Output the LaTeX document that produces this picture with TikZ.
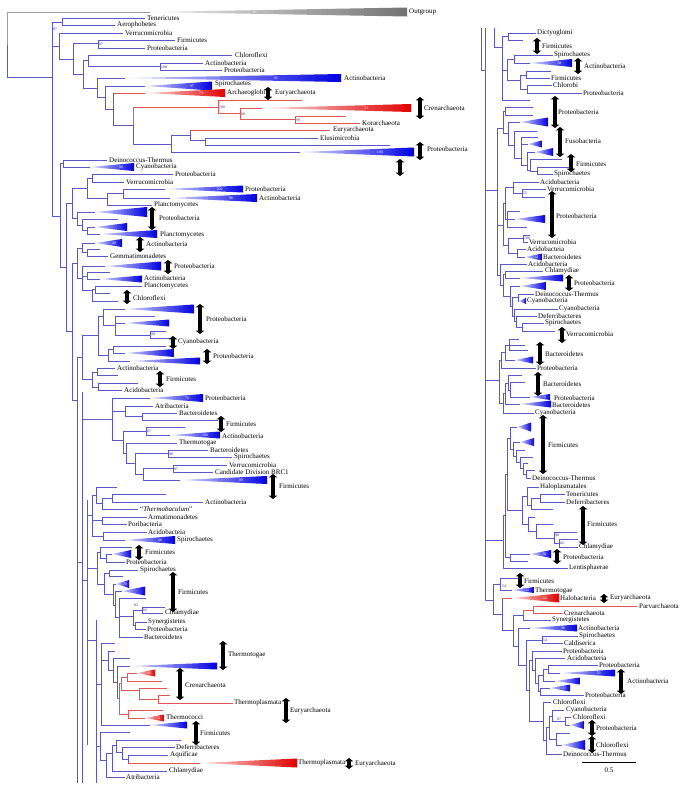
\documentclass[tikz,border=0pt]{standalone}
\usepackage{fontspec}
\setmainfont{Liberation Serif}
\usetikzlibrary{arrows.meta}
\definecolor{bb}{RGB}{88,88,202}
\definecolor{rb}{RGB}{225,85,85}
\definecolor{tb}{RGB}{0,0,225}
\definecolor{tr}{RGB}{225,0,0}
\definecolor{tg}{RGB}{115,115,115}
\definecolor{nb}{RGB}{40,40,130}
\tikzset{
 br/.style={draw=bb, line width=0.6pt},
 rbr/.style={draw=rb, line width=0.6pt},
 lab/.style={anchor=west, inner sep=0pt, font=\fontsize{7}{8}\selectfont, text=black},
 num/.style={anchor=west, inner sep=0pt, font=\fontsize{3.8}{4}\selectfont, text=nb},
 tnum/.style={inner sep=0pt, font=\fontsize{3.8}{4}\selectfont, text=white},
 dbl/.style={line width=3.4pt, draw=black, {Triangle[width=8.5pt,length=3.4pt]}-{Triangle[width=8.5pt,length=3.4pt]}},
}
\newcommand\phH[3]{\draw[br] (#1,#3) -- (#2,#3);}
\newcommand\phV[3]{\draw[br] (#1,#2) -- (#1,#3);}
\newcommand\rH[3]{\draw[rbr] (#1,#3) -- (#2,#3);}
\newcommand\rV[3]{\draw[rbr] (#1,#2) -- (#1,#3);}
\newcommand\phN[3]{\node[lab] at (#1,#2) {#3};}
\newcommand\phM[3]{\node[num] at (#1,#2) {#3};}
\newcommand\phA[3]{\draw[dbl] (#1,#2) -- (#1,#3);}
\newcommand\phTT[8]{%
  \draw[line width=0.6pt,draw=#6] (#1,#4) -- (#2,#4);
  \shade[left color=#7!12,right color=#7] (#2,#4) -- (#3,{#4-#5}) -- (#3,{#4+#5}) -- cycle;
  \pgfmathsetmacro\phX{#3-0.3*(#3-#2)}%
  \node[tnum] at (\phX,#4) {#8};}
\newcommand\phTb[6]{\phTT{#1}{#2}{#3}{#4}{#5}{bb}{tb}{#6}}
\newcommand\phTr[6]{\phTT{#1}{#2}{#3}{#4}{#5}{rb}{tr}{#6}}
\begin{document}
\begin{tikzpicture}[x=1pt,y=-1pt]
\fill[white] (0,0) rectangle (685,790);
\useasboundingbox (0,0) rectangle (685,790);
% ===== LEFT PANEL: top =====
\draw[line width=0.6pt,draw=tg!70] (7,12) -- (150,12);
\draw[line width=0.6pt,draw=tg!70] (7,12) -- (7,45);
\shade[left color=tg!12,right color=tg] (150,12) -- (407,7.5) -- (407,16.5) -- cycle;
\node[tnum] at (255,12) {97};
\phN{409}{12}{Outgroup}
\phV{7}{45}{77} \phH{7}{52}{77}
\phV{52}{22}{216}
\phH{52}{62}{22} \phV{62}{18}{25}
\phH{62}{145}{18} \phN{147}{18}{Tenericutes}
\phH{62}{115}{25} \phN{117}{25}{Aerophobetes}
\phM{53}{29}{97}
\phH{52}{59}{46} \phV{59}{33}{59}
\phH{59}{123}{33} \phN{125}{33}{Verrucomicrobia}
\phH{59}{73}{59} \phV{73}{43}{74}
\phH{73}{98}{43} \phV{98}{40}{48}
\phH{98}{175}{40} \phN{177}{40}{Firmicutes}
\phH{98}{145}{48} \phN{147}{48}{Proteobacteria}
\phM{99}{44.5}{87}
\phH{73}{83}{74} \phV{83}{60}{88}
\phH{83}{88}{60} \phV{88}{55}{66}
\phH{88}{232}{55} \phN{235}{55}{Chloroflexi}
\phH{88}{160}{66} \phV{160}{63}{70}
\phH{160}{203}{63} \phN{205}{63}{Actinobacteria}
\phH{160}{222}{70} \phN{224}{70}{Proteobacteria}
\phM{161}{67}{100}
\phH{83}{97}{88} \phV{97}{78}{97}
\phTb{97}{125}{341}{78}{4}{91} \phN{344}{78}{Actinobacteria}
\phH{97}{105}{97} \phV{105}{86}{109}
\phTb{105}{145}{212}{86}{4.5}{97} \phN{215}{84}{Spirochaetes}
\phH{105}{113}{109} \phV{113}{93}{125}
\phTr{113}{145}{225}{93}{4}{79} \phN{227}{93}{Archaeoglobi}
\phA{268}{87}{100} \phN{275}{93}{Euryarchaeota}
\phH{113}{133}{125} \rV{133}{107}{125} \phV{133}{125}{144}
\rH{133}{218}{107} \rV{218}{100}{113}
\rH{218}{302}{100}
\phM{219}{107}{100}
\rH{218}{240}{113} \rV{240}{108}{119}
\phTr{240}{262}{411}{108}{4}{51}
\phM{241}{114}{80}
\rH{240}{295}{119} \rV{295}{116}{123}
\rH{295}{346}{116} \rH{295}{360}{123} \phN{362}{123}{Korarchaeota}
\phM{296}{120}{99}
\phA{420}{97}{119} \phN{424}{108}{Crenarchaeota}
\phH{133}{171}{144} \phV{171}{135}{152}
\phH{171}{190}{135} \phV{190}{130}{140}
\rH{190}{330}{130} \phN{333}{130}{Euryarchaeota}
\phH{190}{205}{140} \phV{205}{138}{145}
\phH{205}{318}{138} \phN{320}{138}{Elusimicrobia}
\phH{205}{390}{145}
\phTb{171}{300}{414}{152}{4.5}{100}
\phA{420}{142}{160} \phN{427}{149}{Proteobacteria}
\phA{400}{159}{176}
% ===== G1 =====
\phH{52}{60}{216} \phV{60}{163}{267}
\phH{60}{63}{163} \phV{63}{160}{167}
\phH{63}{107}{160} \phN{109}{160}{Deinococcus-Thermus}
\phTb{63}{90}{134}{167}{4}{94} \phN{136}{167}{Cyanobacteria}
\phH{60}{66}{267} \phV{66}{203}{331}
\phH{66}{72}{203} \phV{72}{188}{218}
% ===== G2 =====
\phH{72}{87}{188} \phV{87}{178}{198}
\phH{87}{92}{178} \phV{92}{174}{182}
\phH{92}{173}{174} \phN{175}{174}{Proteobacteria}
\phH{92}{124}{182} \phN{126}{182}{Verrucomicrobia}
\phH{87}{107}{198} \phV{107}{193}{205}
\phH{107}{123}{193} \phV{123}{189}{198}
\phTb{123}{165}{243}{189}{3.5}{100} \phN{245}{189}{Proteobacteria}
\phTb{123}{170}{257}{198}{4}{98} \phN{259}{198}{Actinobacteria}
\phH{107}{152}{205} \phN{154}{205}{Planctomycetes}
% ===== G3 =====
\phH{72}{77}{218} \phV{77}{212}{225}
\phTb{77}{95}{147}{212}{5}{}
\phH{77}{82}{225} \phV{82}{219}{230}
\phH{82}{118}{219}
\phH{82}{87}{230} \phV{87}{227}{234}
\phTb{87}{95}{127}{227}{4}{}
\phTb{87}{100}{157}{234}{4}{} \phN{160}{235}{Planctomycetes}
\phA{152}{207}{230} \phN{159}{218}{Proteobacteria}
% ===== G4, G5 =====
\phH{66}{72}{331} \phV{72}{263}{400}
\phH{72}{77}{263} \phV{77}{248}{278}
\phH{77}{82}{248} \phV{82}{243}{252}
\phTb{82}{95}{122}{243}{4}{40}
\phH{82}{87}{252} \phV{87}{249}{256}
\phH{87}{100}{249}
\phH{87}{108}{256} \phN{110}{256}{Gemmatimonadetes}
\phA{140}{237}{252} \phN{146}{244}{Actinobacteria}
\phH{77}{82}{278} \phV{82}{266}{290}
\phTb{82}{105}{161}{266}{4.5}{}
\phA{168}{260}{274} \phN{174}{266}{Proteobacteria}
\phH{82}{87}{276} \phV{87}{272}{279}
\phH{87}{110}{272}
\phTb{87}{100}{142}{279}{3.5}{} \phN{144}{278}{Actinobacteria}
\phH{82}{92}{290} \phV{92}{289}{301}
\phH{92}{95}{289} \phV{95}{286}{293}
\phH{95}{142}{286} \phN{144}{286}{Planctomycetes}
\phH{95}{110}{293}
\phH{92}{118}{301}
\phA{127}{290}{304} \phN{133}{298}{Chloroflexi}
% ===== G6 =====
\phH{72}{77}{400} \phV{77}{357}{783}
\phH{77}{82}{357} \phV{82}{335}{379}
\phH{82}{98}{335} \phV{98}{316}{355}
\phH{98}{103}{316} \phV{103}{309}{325}
\phTb{103}{125}{194}{309}{4.5}{}
\phH{103}{115}{325} \phV{115}{316}{335}
\phH{115}{155}{316}
\phTb{115}{125}{169}{323}{3.5}{}
\phH{115}{150}{335} \phV{150}{331}{338}
\phH{150}{166}{331} \phH{150}{170}{338}
\phM{151}{334.5}{99}
\phH{98}{108}{355} \phV{108}{349}{361}
\phH{108}{113}{349} \phV{113}{346}{353}
\phH{113}{166}{346}
\phTb{113}{125}{174}{353}{4}{}
\phTb{108}{130}{200}{361}{3.5}{}
\phA{200}{304}{334} \phN{206}{319}{Proteobacteria}
\phA{173}{336}{349} \phN{178}{342}{Cyanobacteria}
\phA{207}{349}{364} \phN{213}{356}{Proteobacteria}
% ===== G7 =====
\phH{82}{92}{379} \phV{92}{372}{387}
\phH{92}{97}{372} \phV{97}{368}{375}
\phH{97}{115}{368} \phN{117}{368}{Actinobacteria}
\phH{97}{118}{375}
\phH{92}{98}{387} \phV{98}{383}{390}
\phH{98}{138}{383}
\phH{98}{122}{390} \phN{124}{390}{Acidobacteria}
\phA{160}{371}{387} \phN{166}{379}{Firmicutes}
% ===== G8 =====
\phH{77}{82}{562} \phV{82}{392}{783}
\phH{82}{112}{419} \phV{112}{398}{440}
\phTb{112}{150}{203}{398}{4}{70} \phN{205}{398}{Proteobacteria}
\phH{112}{125}{411} \phV{125}{406}{416}
\phH{125}{153}{406} \phN{155}{406}{Atribacteria}
\phH{125}{142}{416} \phV{142}{413}{420}
\phH{142}{177}{413} \phN{179}{413}{Bacteroidetes}
\phH{142}{218}{420}
\phA{221}{416}{432} \phN{226}{424}{Firmicutes}
\phH{112}{123}{440} \phV{123}{431}{453}
\phH{123}{146}{431} \phV{146}{427}{435}
\phH{146}{185}{427}
\phTb{146}{170}{220}{435}{3.5}{100} \phN{222}{436}{Actinobacteria}
\phM{147}{431}{87}
\phH{123}{126}{453} \phV{126}{443}{463}
\phH{126}{177}{443} \phN{179}{443}{Thermotogae}
\phH{126}{135}{463} \phV{135}{453}{474}
\phH{135}{168}{453} \phV{168}{450}{457}
\phH{168}{208}{450} \phN{210}{450}{Bacteroidetes}
\phH{168}{232}{457} \phN{234}{457}{Spirochaetes}
\phM{169}{454}{98}
\phH{135}{143}{474} \phV{143}{468}{480}
\phH{143}{173}{468} \phV{173}{465}{472}
\phH{173}{227}{465} \phN{229}{465}{Verrucomicrobia}
\phH{173}{213}{472} \phN{215}{472}{Candidate Division BRC1}
\phM{174}{469}{97}
\phTb{143}{180}{267}{480}{4}{89}
\phA{273}{474}{499} \phN{279}{486}{Firmicutes}
% ===== G9 =====
\phH{82}{87}{580} \phV{87}{500}{745}
\phH{87}{92}{515} \phV{92}{495}{536}
\phH{92}{96}{495} \phV{96}{487}{503}
\phH{96}{117}{487}
\phH{96}{102}{503} \phV{102}{498}{509}
\phH{102}{112}{498} \phV{112}{494}{502}
\phH{112}{166}{494}
\phH{112}{203}{502} \phN{205}{502}{Actinobacteria}
\phH{102}{138}{509} \phN{140}{509}{“\textit{Thermobaculum}”}
\phH{92}{102}{520} \phV{102}{517}{524}
\phH{102}{147}{517} \phN{148}{517}{Armatimonadetes}
\phH{102}{127}{524} \phN{128}{524}{Poribacteria}
\phH{92}{103}{536} \phV{103}{532}{540}
\phH{103}{147}{532} \phN{148}{532}{Acidobacteia}
\phTb{103}{125}{175}{540}{4}{46} \phN{177}{540}{Spirochaetes}
% ===== G10 =====
\phH{87}{97}{568} \phV{97}{552}{584}
\phH{97}{100}{552} \phV{100}{547}{558}
\phH{100}{132}{547}
\phH{100}{106}{558} \phV{106}{554}{562}
\phTb{106}{112}{131}{554}{4}{}
\phH{106}{125}{562} \phN{126}{562}{Proteobacteria}
\phA{139}{545}{560} \phN{145}{552}{Firmicutes}
\phH{97}{104}{584} \phV{104}{573}{594}
\phH{104}{109}{573} \phV{109}{570}{576}
\phH{109}{138}{570} \phN{140}{570}{Spirochaetes}
\phH{109}{123}{576}
\phH{104}{113}{594} \phV{113}{584}{605}
\phTb{113}{116}{129}{584}{4}{70}
\phH{113}{115}{605} \phV{115}{591}{617}
\phTb{115}{122}{145}{591}{4.5}{}
\phH{115}{119}{617} \phV{119}{598}{637}
\phH{119}{146}{598}
\phH{119}{133}{616} \phV{133}{610}{625}
\phH{133}{142}{610} \phV{142}{607}{613}
\phH{142}{165}{607}
\phH{142}{163}{613} \phN{165}{613}{Chlamydiae}
\phM{143}{610}{83}
\phM{134}{605}{82}
\phH{133}{135}{625} \phV{135}{622}{629}
\phH{135}{147}{622} \phN{148}{622}{Synergistetes}
\phH{135}{146}{629} \phN{147}{629}{Proteobacteria}
\phH{119}{143}{637} \phN{144}{637}{Bacteroidetes}
\phA{173}{572}{612} \phN{178}{592}{Firmicutes}
% ===== G11 =====
\phH{87}{96}{640} \phV{96}{620}{783}
\phH{96}{101}{684} \phV{101}{643}{725}
\phH{101}{115}{643}
\phH{101}{108}{660} \phV{108}{651}{670}
\phH{108}{115}{651}
\phH{108}{113}{670} \phV{113}{658}{682}
\phH{113}{130}{658}
\phH{113}{117}{682} \phV{117}{666}{698}
\phTb{117}{130}{217}{666}{3.5}{}
\rH{117}{119}{698}
\rV{119}{683}{714}
\rH{119}{121}{683} \rV{121}{677}{690}
\rH{121}{127}{677} \rV{127}{673}{681}
\phTr{127}{137}{155}{673}{3.5}{86}
\rH{127}{162}{681}
\rH{121}{139}{690} \rV{139}{688}{699}
\rH{139}{167}{688}
\rH{139}{158}{699} \rV{158}{695}{703}
\rH{158}{170}{695}
\rH{158}{233}{703} \phN{234}{703}{Thermoplasmata}
\rH{119}{128}{714} \rV{128}{710}{718}
\rH{128}{163}{710}
\phTr{128}{145}{164}{718}{3.5}{74} \phN{166}{717}{Thermococci}
\phTb{101}{150}{187}{725}{3.5}{}
\phA{223}{641}{670} \phN{228}{655}{Thermotogae}
\phA{180}{668}{700} \phN{185}{685}{Crenarchaeota}
\phA{286}{698}{723} \phN{290}{711}{Euryarchaeota}
\phA{196}{721}{745} \phN{200}{733}{Firmicutes}
% ===== G12 =====
\phH{96}{100}{746} \phV{100}{732}{760}
\phH{100}{130}{732}
\phH{100}{106}{760} \phV{106}{753}{777}
\phH{106}{112}{753} \phV{112}{745}{771}
\phH{112}{116}{745} \phV{116}{740}{752}
\phH{116}{181}{740}
\phH{116}{122}{752} \phV{122}{747}{759}
\phH{122}{175}{747} \phN{176}{747}{Deferribacteres}
\phH{122}{128}{759} \phV{128}{755}{763}
\phH{128}{168}{755} \phN{170}{755}{Aquificae}
\phTr{128}{200}{297}{763}{4.5}{} \phN{298}{763}{Thermoplasmata}
\phA{349}{758}{769} \phN{355}{764}{Euryarchaeota}
\phH{112}{167}{771} \phN{169}{771}{Chlamydiae}
\phH{106}{125}{777} \phN{126}{777}{Atribacteria}
% ===== RIGHT PANEL =====
\phV{481}{28}{70} \phH{481}{485}{70}
\phV{485}{28}{600}
\phV{494}{28}{47} \phH{494}{502}{47}
% R1
\phV{502}{36}{100}
\phH{502}{508}{36} \phV{508}{33}{40}
\phH{508}{536}{33} \phN{537}{33}{Dictyoglomi}
\phH{508}{523}{40}
\phA{537}{38}{54} \phN{542}{46}{Firmicutes}
\phH{502}{507}{70} \phV{507}{59}{80}
\phH{507}{514}{59} \phV{514}{55}{63}
\phH{514}{553}{55} \phN{554}{55}{Spirochaetes}
\phTb{514}{530}{572}{63}{4}{50}
\phA{578}{58}{74} \phN{584}{66}{Actinobacteria}
\phH{507}{520}{80} \phV{520}{75}{89}
\phH{520}{526}{75} \phV{526}{71}{78}
\phH{526}{551}{71}
\phH{526}{550}{78} \phN{551}{78}{Firmicutes}
\phH{520}{527}{89} \phV{527}{85}{93}
\phH{527}{552}{85} \phN{553}{85}{Chlorobi}
\phH{527}{582}{93} \phN{583}{93}{Proteobacteria}
\phH{502}{530}{100}
% R2
\phH{485}{497}{190} \phV{497}{128}{275}
\phH{497}{503}{128} \phV{503}{111}{133}
\phH{503}{505}{111} \phV{505}{107}{115}
\phH{505}{533}{107} \phH{505}{533}{115}
\phH{503}{508}{133} \phV{508}{122}{145}
\phTb{508}{520}{548}{122}{4.5}{}
\phA{555}{96}{128} \phN{558}{112}{Proteobacteria}
\phH{508}{514}{145} \phV{514}{131}{158}
\phH{514}{537}{131}
\phH{514}{521}{158} \phV{521}{137}{165}
\phH{521}{538}{137}
\phTb{521}{528}{542}{144}{3.5}{}
\phH{521}{527}{165} \phV{527}{152}{170}
\phTb{527}{535}{553}{152}{4}{}
\phH{527}{530}{170} \phV{530}{159}{171}
\phH{530}{562}{159}
\phH{530}{537}{171} \phV{537}{167}{174}
\phH{537}{573}{167}
\phH{537}{553}{174} \phN{554}{174}{Spirochaetes}
\phA{560}{127}{157} \phN{565}{141}{Fusobacteria}
\phA{571}{154}{172} \phN{576}{164}{Firmicutes}
% R3
\phH{497}{503}{225} \phV{503}{203}{245}
\phH{503}{505}{203} \phV{505}{187}{219}
\phH{505}{513}{187} \phV{513}{182}{193}
\phH{513}{539}{182} \phN{540}{182}{Acidobacteria}
\phH{513}{522}{193} \phV{522}{189}{197}
\phH{522}{546}{189} \phN{547}{189}{Verrucomicrobia}
\phH{522}{545}{197}
\phM{523}{193}{55}
\phH{505}{507}{219} \phV{507}{211}{227}
\phH{507}{520}{211}
\phTb{507}{515}{545}{219}{4}{}
\phH{507}{527}{227}
\phH{503}{508}{245} \phV{508}{238}{253}
\phH{508}{523}{238} \phV{523}{235}{242}
\phH{523}{530}{235}
\phH{523}{528}{242} \phN{529}{242}{Verrucomicrobia}
\phM{524}{238.5}{100}
\phH{508}{517}{253} \phV{517}{249}{257}
\phH{517}{526}{249} \phN{527}{249}{Acidobacteia}
\phTb{517}{525}{542}{257}{3.5}{61} \phN{543}{257}{Bacteroidetes}
\phA{552}{191}{238} \phN{556}{216}{Proteobacteria}
% R4
\phH{497}{500}{275} \phV{500}{264}{285}
\phH{500}{527}{264} \phN{528}{264}{Acidobacteria}
\phH{500}{503}{285} \phV{503}{274}{296}
\phH{503}{505}{274} \phV{505}{271}{278}
\phH{505}{543}{271} \phN{545}{271}{Chlamydiae}
\phTb{505}{520}{563}{278}{3.5}{}
\phA{569}{275}{291} \phN{574}{283}{Proteobacteria}
\phH{503}{510}{296} \phV{510}{286}{306}
\phTb{510}{520}{546}{286}{4}{}
\phH{510}{512}{306} \phV{512}{297}{316}
\phH{512}{518}{297} \phV{518}{294}{301}
\phH{518}{534}{294} \phN{535}{294}{Deinococcus-Thermus}
\phTb{518}{519}{526}{301}{3}{} \phN{527}{301}{Cyanobacteria}
\phH{512}{514}{316} \phV{514}{309}{321}
\phH{514}{558}{309} \phN{559}{309}{Cyanobacteria}
\phH{514}{516}{321} \phV{516}{316}{327}
\phH{516}{537}{316} \phN{538}{316}{Deferribacteres}
\phH{516}{522}{327} \phV{522}{323}{331}
\phH{522}{544}{323} \phN{545}{323}{Spirochaetes}
\phH{522}{555}{331}
\phA{562}{327}{343} \phN{566}{334}{Verrucomicrobia}
% R5
\phH{485}{499}{380} \phV{499}{360}{403}
\phH{499}{501}{360} \phV{501}{352}{368}
\phH{501}{505}{352} \phV{505}{345}{360}
\phH{505}{509}{345} \phV{509}{339}{350}
\phH{509}{519}{339} \phH{509}{525}{345} \phH{509}{528}{350}
\phTb{505}{515}{533}{360}{3.5}{}
\phH{501}{536}{368} \phN{537}{368}{Proteobacteria}
\phH{499}{503}{403} \phV{503}{393}{413}
\phH{503}{505}{393} \phV{505}{383}{404}
\phH{505}{508}{383} \phV{508}{375}{390}
\phH{508}{522}{375}
\phH{508}{510}{390} \phV{510}{382}{397}
\phH{510}{525}{382}
\phTb{510}{530}{550}{397}{3}{76} \phN{554}{398}{Proteobacteria}
\phTb{505}{520}{551}{404}{3.5}{} \phN{552}{405}{Bacteroidetes}
\phH{503}{534}{413} \phN{535}{413}{Cyanobacteria}
\phA{540}{342}{365} \phN{545}{354}{Bacteroidetes}
\phA{538}{372}{396} \phN{543}{384}{Bacteroidetes}
% R6
\phH{485}{503}{540} \phV{503}{515}{568}
\phH{503}{505}{515} \phV{505}{474}{557}
\phH{505}{507}{474} \phV{507}{438}{510}
\phH{507}{510}{438} \phV{510}{427}{449}
\phTb{510}{517}{531}{427}{4.5}{}
\phH{510}{513}{449} \phV{513}{442}{456}
\phTb{513}{520}{534}{442}{4}{}
\phH{513}{516}{456} \phV{516}{450}{462}
\phH{516}{525}{450}
\phH{516}{520}{462} \phV{520}{457}{468}
\phH{520}{533}{457}
\phH{520}{523}{468} \phV{523}{463}{474}
\phH{523}{528}{463}
\phH{523}{526}{474} \phV{526}{470}{478}
\phH{526}{535}{470}
\phH{526}{531}{478} \phN{532}{478}{Deinococcus-Thermus}
\phA{543}{415}{474} \phN{548}{445}{Firmicutes}
\phH{507}{522}{510} \phV{522}{496}{524}
\phH{522}{527}{496} \phV{527}{487}{505}
\phH{527}{539}{487} \phN{540}{487}{Haloplasmatales}
\phH{527}{531}{505} \phV{531}{498}{509}
\phH{531}{540}{498} \phV{540}{494}{502}
\phH{540}{565}{494} \phN{566}{494}{Tenericutes}
\phH{540}{565}{502} \phN{566}{502}{Deferribacteres}
\phH{531}{553}{509}
\phH{522}{528}{524} \phV{528}{517}{531}
\phH{528}{535}{517}
\phH{528}{536}{531} \phV{536}{524}{538}
\phH{536}{553}{524}
\phH{536}{554}{538} \phV{554}{532}{543}
\phH{554}{577}{532}
\phM{555}{535}{98}
\phH{554}{559}{543} \phV{559}{539}{547}
\phH{559}{578}{539}
\phH{559}{578}{547} \phN{579}{547}{Chlamydiae}
\phM{560}{543}{82}
\phA{583}{506}{545} \phN{587}{524}{Firmicutes}
\phH{505}{510}{557} \phV{510}{554}{561}
\phTb{510}{530}{551}{554}{4}{92}
\phH{510}{528}{561}
\phA{557}{549}{564} \phN{563}{557}{Proteobacteria}
\phH{503}{568}{568} \phN{569}{568}{Lentisphaerae}
% R7
\phH{485}{493}{600} \phV{493}{584}{614}
\phH{493}{500}{584} \phV{500}{578}{590}
\phH{500}{520}{578}
\phA{520}{573}{588} \phN{524}{581}{Firmicutes}
\phTb{500}{512}{534}{590}{3}{55} \phN{535}{591}{Thermotogae}
\phM{502}{586}{54}
\phH{493}{502}{614} \phV{502}{598}{630}
\phTr{502}{512}{559}{598}{4.5}{64} \phN{560}{598}{Halobacteria}
\phA{604}{594}{603} \phN{610}{598}{Euryarchaeota}
\phH{502}{513}{630} \phV{513}{615}{646}
\phH{513}{523}{615} \rV{523}{610}{615} \phV{523}{615}{620}
\rH{523}{533}{610} \rV{533}{606}{613}
\rH{533}{637}{606} \phN{639}{606}{Parvarchaeota}
\rH{533}{563}{613} \phN{564}{613}{Crenarchaeota}
\phH{523}{551}{620} \phN{552}{620}{Synergistetes}
\phH{513}{518}{646} \phV{518}{628}{665}
\phTb{518}{530}{577}{628}{3.5}{98} \phN{578}{628}{Actinobacteria}
\phH{518}{526}{665} \phV{526}{640}{690}
\phH{526}{542}{640} \phV{542}{636}{643}
\phH{542}{578}{636} \phN{579}{636}{Spirochaetes}
\phH{542}{563}{643} \phN{564}{643}{Caldiserica}
\phM{543}{640}{54}
\phH{526}{529}{690} \phV{529}{660}{721}
\phH{529}{532}{660} \phV{532}{651}{670}
\phH{532}{562}{651} \phN{563}{651}{Proteobacteria}
\phH{532}{535}{670} \phV{535}{658}{683}
\phH{535}{565}{658} \phN{567}{658}{Acidobacteria}
\phH{535}{538}{683} \phV{538}{675}{691}
\phH{538}{543}{675} \phV{543}{669}{681}
\phH{543}{548}{669} \phV{548}{665}{673}
\phH{548}{598}{665} \phN{599}{665}{Proteobacteria}
\phTb{548}{560}{615}{673}{3.5}{70}
\phTb{543}{555}{580}{681}{3.5}{}
\phH{538}{540}{691} \phV{540}{688}{695}
\phTb{540}{550}{570}{688}{3.5}{33}
\phH{540}{584}{695} \phN{585}{695}{Proteobacteria}
\phA{621}{669}{694} \phN{627}{681}{Actinobacteria}
\phH{529}{543}{721} \phV{543}{702}{740}
\phH{543}{551}{702} \phN{553}{702}{Chloroflexi}
\phH{543}{546}{740} \phV{546}{727}{754}
\phH{546}{549}{727} \phV{549}{716}{739}
\phH{549}{552}{716} \phV{552}{710}{721}
\phH{552}{564}{710} \phN{566}{710}{Cyanobacteria}
\phH{552}{565}{721} \phV{565}{717}{725}
\phH{565}{571}{717} \phN{573}{717}{Chloroflexi}
\phM{557}{719}{87}
\phTb{565}{570}{584}{725}{4}{}
\phA{592}{720}{736} \phN{596}{728}{Proteobacteria}
\phH{549}{556}{739} \phV{556}{733}{745}
\phH{556}{570}{733}
\phTb{556}{562}{585}{745}{5}{}
\phA{592}{736}{753} \phN{596}{745}{Chloroflexi}
\phH{546}{562}{754} \phN{563}{754}{Deinococcus-Thermus}
% scale bar
\draw[black,line width=0.5pt] (582,762) -- (636,762);
\node[inner sep=0pt,font=\fontsize{7}{8}\selectfont] at (609,770) {0.5};
\end{tikzpicture}
\end{document}
